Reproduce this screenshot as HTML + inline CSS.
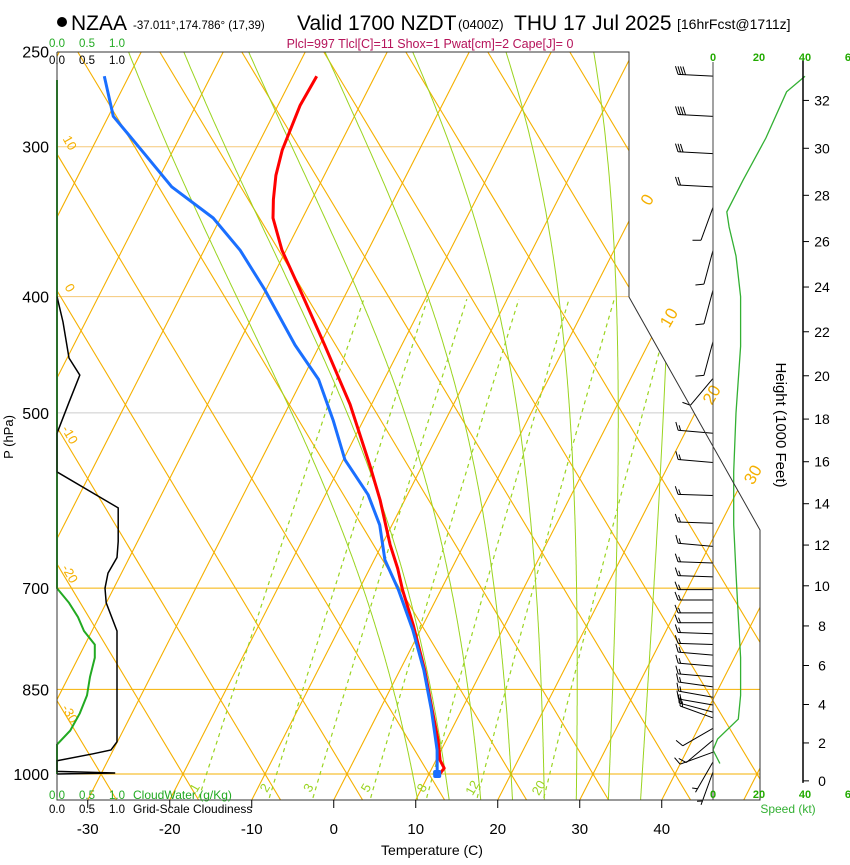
<!DOCTYPE html>
<html><head><meta charset="utf-8">
<style>
html,body{margin:0;padding:0;background:#fff;}
body{width:850px;height:860px;overflow:hidden;font-family:"Liberation Sans",Arial,sans-serif;}
svg text{font-family:"Liberation Sans",Arial,sans-serif;}
</style></head>
<body>
<svg id="chart" width="850" height="860" xmlns="http://www.w3.org/2000/svg">
<defs><clipPath id="plotclip"><polygon points="57,52 629,52 629,297 760,530 760,800 57,800"/></clipPath></defs>
<g>
<circle cx="62" cy="22" r="5" fill="#000"/>
<text x="71" y="30" font-size="21">NZAA</text>
<text x="133" y="29" font-size="11.5">-37.011°,174.786° (17,39)</text>
<text x="297" y="30" font-size="21">Valid 1700 NZDT</text>
<text x="458" y="29" font-size="13">(0400Z)</text>
<text x="514" y="30" font-size="21">THU 17 Jul 2025</text>
<text x="677" y="29" font-size="14">[16hrFcst@1711z]</text>
<text x="430" y="48" font-size="12.5" fill="#b5135a" text-anchor="middle">Plcl=997 Tlcl[C]=11 Shox=1 Pwat[cm]=2 Cape[J]= 0</text>
</g>
<g id="grid" clip-path="url(#plotclip)"></g>
<g id="marks"></g>
<g id="axes"></g>
</svg>
<script>
// ---- data ----
const tempP = [262,277,302,317,332,344,366,395,439,492,553,591,644,674,702,751,819,884,937,974,989,1000];
const tempT = [-47.1,-47.3,-46.7,-45.9,-44.7,-43.6,-40.5,-35.8,-29.4,-22.6,-16.4,-13.0,-9.0,-6.6,-4.7,-1.2,3.0,6.4,9.0,10.5,11.5,11.3];
const dewP = [262,283,304,324,344,366,395,439,469,507,547,585,620,663,702,759,819,884,955,1000];
const dewT = [-73.0,-69.4,-63.3,-57.9,-50.9,-45.6,-40.1,-33.0,-28.0,-23.7,-19.8,-14.8,-11.5,-8.7,-5.2,-0.9,2.9,6.3,9.5,11.0];
const windP = [262,283,304,324,337,366,395,436,468,520,550,586,618,646,667,685,702,716,734,748,764,780,796,813,830,846,863,876,888,898,916,937,959,977,996];
const windSpd = [40,40,30,20,10,10,10,10,10,15,15,15,15,15,15,15,15,15,15,15,15,15,15,15,15,15,15,15,15,15,10,10,10,5,5];
const windDir = [273,273,273,273,200,195,195,195,220,275,275,272,272,275,272,272,270,270,270,270,272,272,275,275,275,278,280,280,285,290,240,230,250,210,200];
const speedP = [980,955,935,900,860,800,740,680,620,560,500,440,400,370,350,340,320,295,270,262];
const speedKt = [3,0,2,11,12,12,11,10,9,9,10,12,12,10,7,6,13,23,32,40];
const cloudWaterP = [700,705,720,740,760,780,800,830,860,890,920,945];
const cloudWater = [0,0.05,0.2,0.35,0.45,0.63,0.63,0.55,0.5,0.38,0.22,0];
const cloudFracP = [400,420,450,465,490,520,560,600,640,660,680,700,720,760,800,920,940,955,962,975,995,998,1000];
const cloudFrac = [0,0.1,0.2,0.38,0.2,0,0,1.02,1.02,1.0,0.85,0.8,0.82,1.0,1.0,1.0,1.0,0.9,0.6,0,0,0.97,0];
const tempTicks = [-30,-20,-10,0,10,20,30,40];
const pressTicks = [250,300,400,500,700,850,1000];
const heightTicks = [0,2,4,6,8,10,12,14,16,18,20,22,24,26,28,30,32];
const mixRatios = [1,2,3,5,8,12,20];
const moistT0 = [8,12,16,20,24,28,32,36];
const speedTicks = [0,20,40,60];
const cloudTicks = [0,0.5,1.0];

// ---- scales ----
const NS='http://www.w3.org/2000/svg';
function Y(p){return 774-521*Math.log(1000/p);}
function X(T,p){return 347+8.2*T+0.51*(774-Y(p));}
function cx(v){return 57+60*v;}
function sx(k){return 713+2.3*k;}
function el(tag,attrs,parent){const e=document.createElementNS(NS,tag);for(const k in attrs)e.setAttribute(k,attrs[k]);parent.appendChild(e);return e;}
const grid=document.getElementById('grid'),marks=document.getElementById('marks'),axes=document.getElementById('axes');

// isobars
[[300,'#f5c878'],[400,'#f5c878'],[500,'#cccccc'],[700,'#f5b000'],[850,'#f5b000'],[1000,'#f5b000']].forEach(([p,c])=>{
 const l=el('line',{x1:57,x2:760,y1:Y(p),y2:Y(p),stroke:c,'stroke-width':1},grid);
 
 
});
// isotherms
for(let T=-130;T<=60;T+=10){
 const l=el('line',{x1:347+8.2*T-0.51*26,y1:800,x2:347+8.2*T+0.51*722,y2:52,stroke:'#f5b000','stroke-width':1.1},grid);
 
 
}
// dry adiabats (straight)
for(let th=-60;th<=140;th+=10){
 const b=347+8.2*th;
 const l=el('line',{x1:b+0.6*26,y1:800,x2:b-0.6*722,y2:52,stroke:'#f5b000','stroke-width':1.1},grid);
 
 
}
// moist adiabats
function moist(T0){
 const Rd=287,cp=1004,Lv=2.5e6;
 function d(T,p){const Tk=T+273.15;const es=6.112*Math.exp(17.67*T/(T+243.5));const rs=0.622*es/(p-es);
  return (Rd*Tk+Lv*rs)/(p*(cp+Lv*Lv*rs*0.622/(Rd*Tk*Tk)));}
 let pts=[];let T=T0;
 for(let p=1000;p>=250;p-=2){pts.push([X(T,p),Y(p)]);T-=d(T,p)*2;}
 let up=[];T=T0;for(let p=1000;p<=1050;p+=2){up.push([X(T,p),Y(p)]);T+=d(T,p)*2;}
 return up.reverse().concat(pts);
}
moistT0.forEach(t=>{
 const l=el('polyline',{points:moist(t).map(q=>q[0].toFixed(1)+','+q[1].toFixed(1)).join(' '),fill:'none',stroke:'#9ad420','stroke-width':1},grid);
 
 
});
// mixing ratio lines
function tdw(w,p){const e=w*p/(622+w);const a=Math.log(e/6.112);return 243.5*a/(17.67-a);}
mixRatios.forEach(w=>{
 const pts=[];for(let p=1047;p>=400;p-=5)pts.push(X(tdw(w,p),p).toFixed(1)+','+Y(p).toFixed(1));
 const l=el('polyline',{points:pts.join(' '),fill:'none',stroke:'#9ad420','stroke-width':1.2,'stroke-dasharray':'4,4'},grid);
 
 
 const lx=X(tdw(w,1025),1025)-4,ly=790;
 const t=el('text',{x:lx,y:ly,'font-size':13,fill:'#9ad420','text-anchor':'middle',transform:'rotate(-60 '+lx+' '+ly+')'},marks);
 t.textContent=w;
 
 
});
// isotherm labels
[[0,200],[10,318],[20,395],[30,475]].forEach(([T,y])=>{
 const lx=347+8.2*T+0.51*(774-y)+8;
 const t=el('text',{x:lx,y:y+5,'font-size':17,fill:'#f5b000','text-anchor':'middle',transform:'rotate(-60 '+lx+' '+y+')'},marks);
 t.textContent=T;
 
 
});
// adiabat labels
[[10,145],[0,290],[-10,437],[-20,576],[-30,716]].forEach(([th,y])=>{
 const t=el('text',{x:66,y:y,'font-size':13,fill:'#f5b000','text-anchor':'middle',transform:'rotate(60 66 '+y+')'},marks);
 t.textContent=th;
 
 
});

// cloud water & cloudiness
(function(){
 const pts=['57,80','57,'+Y(700)].concat(cloudWaterP.map((p,i)=>cx(cloudWater[i]).toFixed(1)+','+Y(p).toFixed(1)));
 pts.push('57,'+Y(1000));
 const l=el('polyline',{points:pts.join(' '),fill:'none',stroke:'#22aa22','stroke-width':2},marks);
 
 
 const c=el('polyline',{points:cloudFracP.map((p,i)=>cx(cloudFrac[i]).toFixed(1)+','+Y(p).toFixed(1)).join(' '),fill:'none',stroke:'#000','stroke-width':1.5},marks);
 
 
})();

// temperature & dewpoint
const tl=el('polyline',{points:tempP.map((p,i)=>X(tempT[i],p).toFixed(1)+','+Y(p).toFixed(1)).join(' '),fill:'none',stroke:'#ff0000','stroke-width':3,'stroke-linejoin':'round'},marks);


const dl=el('polyline',{points:dewP.map((p,i)=>X(dewT[i],p).toFixed(1)+','+Y(p).toFixed(1)).join(' '),fill:'none',stroke:'#1a6fff','stroke-width':3,'stroke-linejoin':'round'},marks);


const sd=el('rect',{x:X(dewT[dewT.length-1],1000)-4,y:Y(1000)-4,width:8,height:8,rx:2,fill:'#1a6fff'},marks);



// frame
const fr=el('polyline',{points:'57,52 629,52 629,297 760,530 760,800 57,800 57,52',fill:'none',stroke:'#333','stroke-width':1},axes);


const st=el('line',{x1:713,y1:62,x2:713,y2:800,stroke:'#444','stroke-width':1},axes);


const ha=el('line',{x1:803,y1:60,x2:803,y2:Y(1013.25)+2,stroke:'#000','stroke-width':1.5},axes);



// wind barbs
windP.forEach((p,i)=>{
 const y=Y(p),a=windDir[i]*Math.PI/180,L=35;
 const ux=Math.sin(a),uy=-Math.cos(a);
 const ex=713+ux*L,ey=y+uy*L;
 const g=el('g',{},marks);
 
 
 el('line',{x1:713,y1:y,x2:ex,y2:ey,stroke:'#000','stroke-width':1},g);
 let s=windSpd[i],k=0;
 const qx=uy,qy=-ux;const sgn=(qy<0)?1:-1;
 while(s>=10){
  const bx=ex-ux*k*2.5,by=ey-uy*k*2.5;
  el('line',{x1:bx,y1:by,x2:bx+ux*3+qx*8*sgn,y2:by+uy*3+qy*8*sgn,stroke:'#000','stroke-width':1},g);
  s-=10;k++;
 }
 if(s>=5){
  const off=(k==0?4:k*2.5);
  const bx=ex-ux*off,by=ey-uy*off;
  el('line',{x1:bx,y1:by,x2:bx+ux*2+qx*5*sgn,y2:by+uy*2+qy*5*sgn,stroke:'#000','stroke-width':1},g);
 }
});

// speed profile
const sp=el('polyline',{points:speedP.map((p,i)=>sx(speedKt[i]).toFixed(1)+','+Y(p).toFixed(1)).join(' '),fill:'none',stroke:'#33b033','stroke-width':1.3},marks);


speedTicks.forEach(k=>{
 [61,798].forEach((y,j)=>{
  const t=el('text',{x:sx(k),y:y,'font-size':11,'font-weight':'bold',fill:'#22aa00','text-anchor':'middle'},axes);
  t.textContent=k;
  
  
 });
});
const spt=el('text',{x:788,y:813,'font-size':12,fill:'#33b033','text-anchor':'middle'},axes);
spt.textContent='Speed (kt)';



// height axis
function hY(kft){const hm=kft*1000*0.3048;const p=1013.25*Math.pow(1-2.25577e-5*hm,5.25588);return Y(p);}
heightTicks.forEach(h=>{
 const y=hY(h);
 el('line',{x1:803,x2:809,y1:y,y2:y,stroke:'#000'},axes);
 const t=el('text',{x:822,y:y+5,'font-size':14,'text-anchor':'middle'},axes);
 t.textContent=h;
 
 
});
const ht=el('text',{x:776,y:425,'font-size':15,'text-anchor':'middle',transform:'rotate(90 776 425)'},axes);
ht.textContent='Height (1000 Feet)';



// pressure labels
pressTicks.forEach(p=>{
 const t=el('text',{x:49,y:Y(p)+6,'font-size':16,'text-anchor':'end'},axes);
 t.textContent=p;
 
 
});
const pt=el('text',{x:13,y:437,'font-size':13,'text-anchor':'middle',transform:'rotate(-90 13 437)'},axes);
pt.textContent='P (hPa)';



// temperature ticks
tempTicks.forEach(T=>{
 const x=347+8.2*T-0.51*26;
 el('line',{x1:x,x2:x,y1:800,y2:808,stroke:'#000'},axes);
 const t=el('text',{x:x,y:834,'font-size':15,'text-anchor':'middle'},axes);
 t.textContent=T;
 
 
});
const tt=el('text',{x:432,y:855,'font-size':14,'text-anchor':'middle'},axes);
tt.textContent='Temperature (C)';



// cloud scale labels
cloudTicks.forEach(v=>{
 [[47,'#22aa22','cloud-water-top-tick'],[64,'#000','cloudiness-top-tick'],[799,'#22aa22','cloud-water-bottom-tick'],[813,'#000','cloudiness-bottom-tick']].forEach(([y,c,n])=>{
  const t=el('text',{x:cx(v),y:y,'font-size':11.5,fill:c,'text-anchor':'middle'},axes);
  t.textContent=v.toFixed(1);
  
  
 });
});
const cwt=el('text',{x:133,y:799,'font-size':12,fill:'#22aa22'},axes);
cwt.textContent='CloudWater (g/Kg)';


const cft=el('text',{x:133,y:813,'font-size':12,fill:'#000'},axes);
cft.textContent='Grid-Scale Cloudiness';


</script>
</body></html>
